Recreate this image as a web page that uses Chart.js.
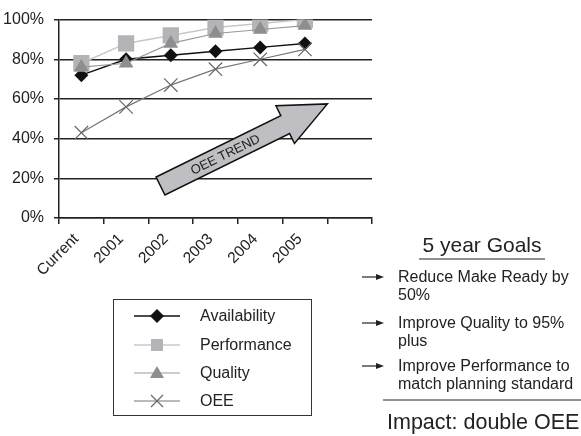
<!DOCTYPE html>
<html>
<head>
<meta charset="utf-8">
<script src="https://cdn.jsdelivr.net/npm/chart.js@4"></script>
<style>
  body { margin: 0; background: #fff; font-family: "Liberation Sans", Arial, sans-serif; color: #222; }
  #wrap { position: relative; width: 581px; height: 436px; overflow: hidden; }
  #chart-box { position: absolute; left: 0; top: 0; width: 581px; height: 436px; }
  .abs { position: absolute; }
  #legend { left: 113px; top: 299px; width: 199px; height: 117px; border: 1px solid #333; box-sizing: border-box; }
  .row { position: absolute; left: 20px; height: 20px; font-size: 16px; line-height: 20px; }
  .row svg { position: absolute; left: 0; top: 0; }
  .row span { position: absolute; left: 66px; white-space: nowrap; }
  .goal { left: 398px; font-size: 16px; line-height: 17.5px; white-space: nowrap; }
</style>
</head>
<body>
<div id="wrap">
  <div id="chart-box"><canvas id="chart" width="581" height="436"></canvas></div>

  <svg class="abs" style="left:0;top:0" width="581" height="436">
    <g transform="translate(160.5,186) rotate(-26.2)">
      <path d="M0,-10 L139,-10 L139,-21 L186,0 L139,21 L139,10 L0,10 Z" fill="#bfbfc3" stroke="#111" stroke-width="1.5" stroke-linejoin="miter"/>
      <text x="72" y="4.5" text-anchor="middle" font-family="Liberation Sans, Arial, sans-serif" font-size="13" fill="#222">OEE TREND</text>
    </g>
    <line x1="419" y1="259" x2="545" y2="259" stroke="#222" stroke-width="1"/>
    <line x1="383" y1="400" x2="581" y2="400" stroke="#222" stroke-width="1"/>
    <g stroke="#222" stroke-width="1.2" fill="#222">
      <line x1="362" y1="277" x2="377" y2="277"/><path d="M376,274 L384,277 L376,280 Z" stroke="none"/>
      <line x1="362" y1="323" x2="377" y2="323"/><path d="M376,320 L384,323 L376,326 Z" stroke="none"/>
      <line x1="362" y1="366" x2="377" y2="366"/><path d="M376,363 L384,366 L376,369 Z" stroke="none"/>
    </g>
  </svg>

  <div class="abs" style="left:400px;top:233px;width:164px;text-align:center;font-size:21px;line-height:24px;">5 year Goals</div>
  <div class="abs goal" style="top:268px;">Reduce Make Ready by<br>50%</div>
  <div class="abs goal" style="top:314px;">Improve Quality to 95%<br>plus</div>
  <div class="abs goal" style="top:357px;">Improve Performance to<br>match planning standard</div>
  <div class="abs" style="left:387px;top:410px;font-size:21.5px;line-height:24px;white-space:nowrap;">Impact: double OEE</div>

  <div id="legend" class="abs">
    <div class="row" style="top:6px;">
      <svg width="50" height="20"><line x1="0" y1="10" x2="46" y2="10" stroke="#111" stroke-width="1.5"/><polygon points="23,3 30,10 23,17 16,10" fill="#111"/></svg>
      <span>Availability</span>
    </div>
    <div class="row" style="top:35px;">
      <svg width="50" height="20"><line x1="0" y1="10" x2="46" y2="10" stroke="#c8c8cc" stroke-width="1.5"/><rect x="17" y="4" width="12" height="12" fill="#b4b4b8"/></svg>
      <span>Performance</span>
    </div>
    <div class="row" style="top:63px;">
      <svg width="50" height="20"><line x1="0" y1="10" x2="46" y2="10" stroke="#999" stroke-width="1.2"/><polygon points="23,3 30,15 16,15" fill="#8e8e8e"/></svg>
      <span>Quality</span>
    </div>
    <div class="row" style="top:91px;">
      <svg width="50" height="20"><line x1="0" y1="10" x2="46" y2="10" stroke="#777" stroke-width="1.2"/><path d="M17,4 L29,16 M29,4 L17,16" stroke="#666" stroke-width="1.2"/></svg>
      <span>OEE</span>
    </div>
  </div>
</div>

<script>
const labels = ["Current", "2001", "2002", "2003", "2004", "2005", ""];
const availability = [72, 80, 82, 84, 86, 88];
const performance = [78, 88, 92, 96, 98, 100];
const quality = [76, 78, 88, 93, 95, 97];
const oee = [43, 56, 67, 75, 80, 85];
const yTicks = [0, 20, 40, 60, 80, 100];

const ink = "#222";

new Chart(document.getElementById("chart"), {
  type: "line",
  data: {
    labels,
    datasets: [
      { label: "Availability", data: availability, order: 4, borderColor: "#111", backgroundColor: "#111",
        borderWidth: 1.5, pointStyle: "rectRot", pointRadius: 7, pointBorderWidth: 0 },
      { label: "Performance", data: performance, order: 3, borderColor: "#c8c8cc", backgroundColor: "#b4b4b8",
        borderWidth: 1.5, pointStyle: "rect", pointRadius: 11.5, pointBorderWidth: 0 },
      { label: "Quality", data: quality, order: 2, borderColor: "#999", backgroundColor: "#8e8e8e",
        borderWidth: 1.2, pointStyle: "triangle", pointRadius: 8.5, pointBorderWidth: 0 },
      { label: "OEE", data: oee, order: 1, borderColor: "#777", backgroundColor: "transparent",
        pointBorderColor: "#666", borderWidth: 1.2, pointStyle: "crossRot", pointRadius: 9.5, pointBorderWidth: 1.2 },
    ],
  },
  options: {
    responsive: false,
    animation: false,
    layout: { padding: { left: 0, top: 13, right: 209, bottom: 158 } },
    plugins: { legend: { display: false }, tooltip: { enabled: false } },
    scales: {
      x: {
        type: "category",
        offset: true,
        afterFit: (s) => { s.height = 60; },
        grid: { offset: true, drawOnChartArea: false, drawTicks: true, tickLength: 6, color: ink, lineWidth: 1.5 },
        border: { display: true, color: ink, width: 1.5 },
        ticks: { minRotation: 45, maxRotation: 45, autoSkip: false, padding: 6, labelOffset: -5, color: ink,
                 font: { family: "Liberation Sans", size: 15.5 } },
      },
      y: {
        min: 0, max: 100,
        afterFit: (s) => { s.width = 59; },
        afterBuildTicks: (s) => { s.ticks = yTicks.map(v => ({ value: v })); },
        grid: { color: ink, lineWidth: 1.5, tickLength: 5 },
        border: { display: true, color: ink, width: 1.5 },
        ticks: { padding: 10, color: ink, font: { family: "Liberation Sans", size: 16 },
                 callback: (v) => v + "%" },
      },
    },
  },
});
</script>
</body>
</html>
